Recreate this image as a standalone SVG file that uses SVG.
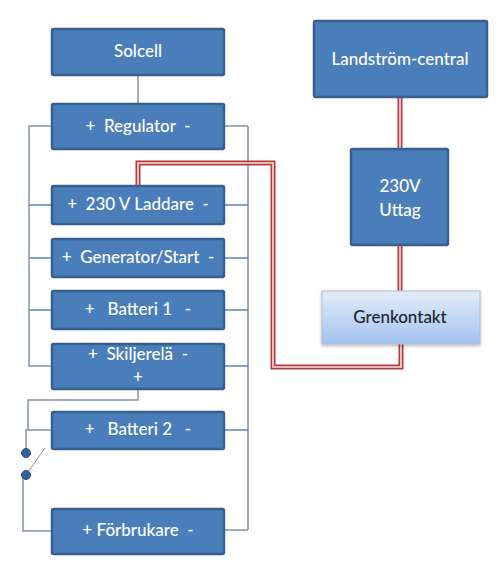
<svg xmlns="http://www.w3.org/2000/svg" width="500" height="563" viewBox="0 0 500 563">
<defs>
<linearGradient id="g" x1="0" y1="0" x2="0" y2="1"><stop offset="0" stop-color="#e4ecf9"/><stop offset="1" stop-color="#a3c2f0"/></linearGradient>
<filter id="s" x="-5%" y="-10%" width="110%" height="125%"><feDropShadow dx="0" dy="1.5" stdDeviation="1.5" flood-color="#000" flood-opacity="0.3"/></filter>
</defs>
<style>
.b{fill:#4a7ebb;stroke:#37608f;stroke-width:2.5}
.t{font-family:Lato,"Open Sans",sans-serif;font-size:17px;fill:#fff;text-anchor:middle;font-weight:500}
.w{fill:none;stroke:#8093a8;stroke-width:1.5}
.s{fill:none;stroke:#5f86b5;stroke-width:1.5}
.v{fill:none;stroke:#9fa9b5;stroke-width:2}
.r{fill:none;stroke:#b8383c;stroke-width:5}
.ri{fill:none;stroke:#f3e3e3;stroke-width:1.6}
.d{fill:#2f62a0;stroke:#2a5080;stroke-width:1}
</style>
<rect width="500" height="563" fill="#fff"/>
<g id="connectors">
<path class="w" d="M138 75V104"/>
<path class="w" d="M52 126H29V366H52"/>
<path class="s" d="M29 205H52M29 258H52M29 310H52"/>
<path class="v" d="M248 126V530"/>
<path class="w" d="M225 126H248M225 530H248"/>
<path class="s" d="M225 205H248M225 258H248M225 310H248M225 366H248M225 430H248"/>
<path class="w" d="M138 390V400H28V430"/>
<path class="w" d="M52 430H26V453"/>
<path class="w" style="stroke-width:1" d="M26 475L45 448"/>
<path class="w" d="M23 475V531H52"/>
<path class="r" d="M138 186V163H273V367H401V344"/>
<path class="ri" d="M138 186V163H273V367H401V344"/>
<path class="r" d="M400 97V149"/>
<path class="ri" d="M400 97V149"/>
<path class="r" d="M400 246V291"/>
<path class="ri" d="M400 246V291"/>
</g>
<g id="solcell"><rect class="b" x="52" y="29" width="172" height="46" rx="1.5"/><text class="t" x="138" y="57">Solcell</text></g>
<g id="regulator"><rect class="b" x="52" y="104" width="172" height="45" rx="1.5"/><text class="t" x="138" y="132" xml:space="preserve">+  Regulator  -</text></g>
<g id="laddare"><rect class="b" x="52" y="186" width="172" height="38" rx="1.5"/><text class="t" x="138" y="210" xml:space="preserve">+  230 V Laddare  -</text></g>
<g id="generator"><rect class="b" x="52" y="239" width="172" height="38" rx="1.5"/><text class="t" x="138" y="263" xml:space="preserve">+  Generator/Start  -</text></g>
<g id="batteri1"><rect class="b" x="52" y="291" width="172" height="38" rx="1.5"/><text class="t" x="138" y="315" xml:space="preserve">+   Batteri 1   -</text></g>
<g id="skiljerela"><rect class="b" x="52" y="344" width="172" height="45" rx="1.5"/><text class="t" x="138" y="360" xml:space="preserve">+  Skiljerelä  -</text><text class="t" x="138" y="383">+</text></g>
<g id="batteri2"><rect class="b" x="52" y="412" width="172" height="37" rx="1.5"/><text class="t" x="138" y="435" xml:space="preserve">+   Batteri 2   -</text></g>
<g id="forbrukare"><rect class="b" x="52" y="509" width="172" height="45" rx="1.5"/><text class="t" x="138" y="536" xml:space="preserve">+ Förbrukare  -</text></g>
<g id="landstrom"><rect class="b" x="314" y="21" width="173" height="76" rx="1.5"/><text class="t" x="400" y="65">Landström-central</text></g>
<g id="uttag"><rect class="b" x="351" y="149" width="97" height="96" rx="1.5"/><text class="t" x="400" y="192">230V</text><text class="t" x="400" y="216">Uttag</text></g>
<g id="grenkontakt"><rect x="322" y="291" width="158" height="53" fill="url(#g)" stroke="#a9bedb" stroke-width="1" filter="url(#s)"/><text class="t" style="fill:#1c2430" x="400" y="323">Grenkontakt</text></g>
<g id="switch-top"><circle class="d" cx="26" cy="453" r="4.5"/></g>
<g id="switch-bottom"><circle class="d" cx="26" cy="475" r="4.5"/></g>
</svg>
